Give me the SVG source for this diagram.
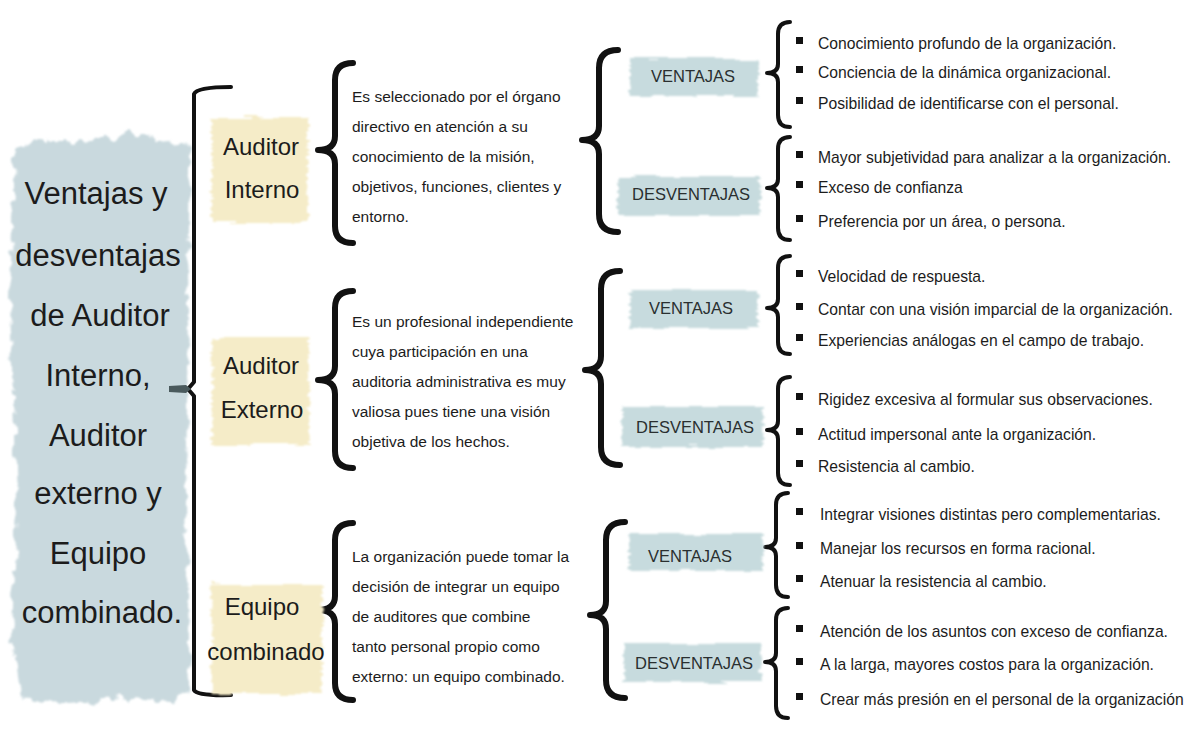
<svg xmlns="http://www.w3.org/2000/svg" width="1200" height="729" viewBox="0 0 1200 729">
<defs>
<filter id="rough" x="-10%" y="-15%" width="120%" height="130%">
<feTurbulence type="fractalNoise" baseFrequency="0.03 0.3" numOctaves="2" seed="3" result="n"/>
<feDisplacementMap in="SourceGraphic" in2="n" scale="9" xChannelSelector="R" yChannelSelector="G" result="d"/>
<feGaussianBlur in="d" stdDeviation="0.8"/>
</filter>
<filter id="rough2" x="-10%" y="-5%" width="120%" height="110%">
<feTurbulence type="fractalNoise" baseFrequency="0.09 0.06" numOctaves="3" seed="7" result="n"/>
<feDisplacementMap in="SourceGraphic" in2="n" scale="14" xChannelSelector="R" yChannelSelector="G" result="d"/>
<feGaussianBlur in="d" stdDeviation="1"/>
</filter>
<style>
text{font-family:"Liberation Sans","DejaVu Sans",sans-serif;fill:#1c1c1c}
.title{font-size:31px;text-anchor:middle}
.lab{font-size:24px;text-anchor:middle}
.desc{font-size:15.5px}
.item{font-size:15.7px}
.badge{font-size:16.5px;text-anchor:middle;fill:#2a2f30}
.beige{fill:#f5ecc8}
.blue{fill:#c7dbde}
.b1{fill:none;stroke:#111;stroke-width:6;stroke-linecap:round;stroke-linejoin:round}
.b3{fill:none;stroke:#111;stroke-width:4;stroke-linecap:round;stroke-linejoin:round}
.bul{fill:#111}
</style>
</defs>
<rect width="1200" height="729" fill="#ffffff"/>

<g id="title">
<path d="M14,150 L40,138 L90,142 L130,133 L170,140 L190,148 L188,300 L186,500 L190,690 L170,702 L120,698 L60,705 L20,698 L12,640 L16,500 L10,300 Z" fill="#c9d9de" filter="url(#rough2)"/>
<text class="title" x="96" y="204">Ventajas y</text>
<text class="title" x="98" y="266">desventajas</text>
<text class="title" x="100" y="326">de Auditor</text>
<text class="title" x="98" y="386">Interno,</text>
<text class="title" x="98" y="446">Auditor</text>
<text class="title" x="98" y="504">externo y</text>
<text class="title" x="98" y="564">Equipo</text>
<text class="title" x="102" y="623">combinado.</text>
</g>

<g id="connectors">
<path class="b3" d="M231,87 Q197,87 194,94 L194,382 L188,389 L194,396 L194,690 Q197,696 231,695"/>
<path d="M169,386 L186,385 L191,389 L186,393 L169,392 Z" fill="#4a5a5d"/>
<path class="b1" d="M353,63 Q335,63 335,80 L335,136 Q335,150 318,150 Q335,150 335,164 L335,226 Q335,243 353,243"/>
<path class="b1" d="M353,291 Q335,291 335,308 L335,366 Q335,380 318,380 Q335,380 335,394 L335,451 Q335,468 353,468"/>
<path class="b1" d="M353,523 Q335,523 335,540 L335,596 Q335,610 318,610 Q335,610 335,624 L335,683 Q335,700 353,700"/>
<path class="b1" d="M618,50 Q599,50 599,68 L599,126 Q599,140 582,140 Q599,140 599,154 L599,214 Q599,232 618,232"/>
<path class="b1" d="M620,271 Q601,271 601,289 L601,356 Q601,370 585,370 Q601,370 601,384 L601,447 Q601,465 620,465"/>
<path class="b1" d="M625,522 Q606,522 606,540 L606,601 Q606,615 590,615 Q606,615 606,629 L606,680 Q606,698 625,698"/>
<path class="b3" d="M790,22 Q778,22 778,34 L778,64 Q778,73 767,73 Q778,73 778,82 L778,115 Q778,127 790,127"/>
<path class="b3" d="M790,137 Q778,137 778,149 L778,179 Q778,188 767,188 Q778,188 778,197 L778,228 Q778,240 790,240"/>
<path class="b3" d="M790,256 Q778,256 778,268 L778,299 Q778,308 767,308 Q778,308 778,317 L778,342 Q778,354 790,354"/>
<path class="b3" d="M790,377 Q778,377 778,389 L778,421 Q778,430 767,430 Q778,430 778,439 L778,473 Q778,485 790,485"/>
<path class="b3" d="M788,493 Q776,493 776,505 L776,538 Q776,547 765,547 Q776,547 776,556 L776,585 Q776,597 788,597"/>
<path class="b3" d="M788,608 Q776,608 776,620 L776,653 Q776,662 765,662 Q776,662 776,671 L776,706 Q776,718 788,718"/>
</g>

<g id="auditor-interno">
<rect class="beige" x="212" y="117" width="96" height="106" filter="url(#rough)"/>
<text class="lab" x="261" y="155">Auditor</text>
<text class="lab" x="262" y="198">Interno</text>
</g>
<g id="auditor-externo">
<rect class="beige" x="212" y="338" width="97" height="107" filter="url(#rough)"/>
<text class="lab" x="261" y="374">Auditor</text>
<text class="lab" x="262" y="418">Externo</text>
</g>
<g id="equipo-combinado">
<rect class="beige" x="212" y="584" width="110" height="110" filter="url(#rough)"/>
<text class="lab" x="262" y="615">Equipo</text>
<text class="lab" x="266" y="660">combinado</text>
</g>

<g id="desc-interno">
<text class="desc" x="352" y="102">Es seleccionado por el órgano</text>
<text class="desc" x="352" y="132">directivo en atención a su</text>
<text class="desc" x="352" y="162">conocimiento de la misión,</text>
<text class="desc" x="352" y="192">objetivos, funciones, clientes y</text>
<text class="desc" x="352" y="222">entorno.</text>
</g>
<g id="desc-externo">
<text class="desc" x="352" y="327">Es un profesional independiente</text>
<text class="desc" x="352" y="357">cuya participación en una</text>
<text class="desc" x="352" y="387">auditoria administrativa es muy</text>
<text class="desc" x="352" y="417">valiosa pues tiene una visión</text>
<text class="desc" x="352" y="447">objetiva de los hechos.</text>
</g>
<g id="desc-combinado">
<text class="desc" x="352" y="562">La organización puede tomar la</text>
<text class="desc" x="352" y="592">decisión de integrar un equipo</text>
<text class="desc" x="352" y="622">de auditores que combine</text>
<text class="desc" x="352" y="652">tanto personal propio como</text>
<text class="desc" x="352" y="682">externo: un equipo combinado.</text>
</g>

<g id="ventajas-interno">
<rect class="blue" x="630" y="59" width="128" height="37" filter="url(#rough)"/>
<text class="badge" x="693" y="82">VENTAJAS</text>
</g>
<g id="desventajas-interno">
<rect class="blue" x="618" y="177" width="142" height="38" filter="url(#rough)"/>
<text class="badge" x="691" y="200">DESVENTAJAS</text>
</g>
<g id="ventajas-externo">
<rect class="blue" x="630" y="290" width="128" height="38" filter="url(#rough)"/>
<text class="badge" x="691" y="314">VENTAJAS</text>
</g>
<g id="desventajas-externo">
<rect class="blue" x="622" y="407" width="141" height="40" filter="url(#rough)"/>
<text class="badge" x="695" y="433">DESVENTAJAS</text>
</g>
<g id="ventajas-combinado">
<rect class="blue" x="629" y="534" width="134" height="37" filter="url(#rough)"/>
<text class="badge" x="690" y="562">VENTAJAS</text>
</g>
<g id="desventajas-combinado">
<rect class="blue" x="624" y="644" width="137" height="38" filter="url(#rough)"/>
<text class="badge" x="694" y="669">DESVENTAJAS</text>
</g>

<g id="items-ventajas-interno">
<rect class="bul" x="796" y="37" width="7" height="7"/><text class="item" x="818" y="49">Conocimiento profundo de la organización.</text>
<rect class="bul" x="796" y="66" width="7" height="7"/><text class="item" x="818" y="78">Conciencia de la dinámica organizacional.</text>
<rect class="bul" x="796" y="97" width="7" height="7"/><text class="item" x="818" y="109">Posibilidad de identificarse con el personal.</text>
</g>
<g id="items-desventajas-interno">
<rect class="bul" x="796" y="151" width="7" height="7"/><text class="item" x="818" y="163">Mayor subjetividad para analizar a la organización.</text>
<rect class="bul" x="796" y="181" width="7" height="7"/><text class="item" x="818" y="193">Exceso de confianza</text>
<rect class="bul" x="796" y="215" width="7" height="7"/><text class="item" x="818" y="227">Preferencia por un área, o persona.</text>
</g>
<g id="items-ventajas-externo">
<rect class="bul" x="796" y="270" width="7" height="7"/><text class="item" x="818" y="282">Velocidad de respuesta.</text>
<rect class="bul" x="796" y="303" width="7" height="7"/><text class="item" x="818" y="315">Contar con una visión imparcial de la organización.</text>
<rect class="bul" x="796" y="334" width="7" height="7"/><text class="item" x="818" y="346">Experiencias análogas en el campo de trabajo.</text>
</g>
<g id="items-desventajas-externo">
<rect class="bul" x="796" y="393" width="7" height="7"/><text class="item" x="818" y="405">Rigidez excesiva al formular sus observaciones.</text>
<rect class="bul" x="796" y="428" width="7" height="7"/><text class="item" x="818" y="440">Actitud impersonal ante la organización.</text>
<rect class="bul" x="796" y="460" width="7" height="7"/><text class="item" x="818" y="472">Resistencia al cambio.</text>
</g>
<g id="items-ventajas-combinado">
<rect class="bul" x="796" y="508" width="7" height="7"/><text class="item" x="820" y="520">Integrar visiones distintas pero complementarias.</text>
<rect class="bul" x="796" y="542" width="7" height="7"/><text class="item" x="820" y="554">Manejar los recursos en forma racional.</text>
<rect class="bul" x="796" y="575" width="7" height="7"/><text class="item" x="820" y="587">Atenuar la resistencia al cambio.</text>
</g>
<g id="items-desventajas-combinado">
<rect class="bul" x="796" y="625" width="7" height="7"/><text class="item" x="820" y="637">Atención de los asuntos con exceso de confianza.</text>
<rect class="bul" x="796" y="658" width="7" height="7"/><text class="item" x="820" y="670">A la larga, mayores costos para la organización.</text>
<rect class="bul" x="796" y="693" width="7" height="7"/><text class="item" x="820" y="705">Crear más presión en el personal de la organización</text>
</g>
</svg>
